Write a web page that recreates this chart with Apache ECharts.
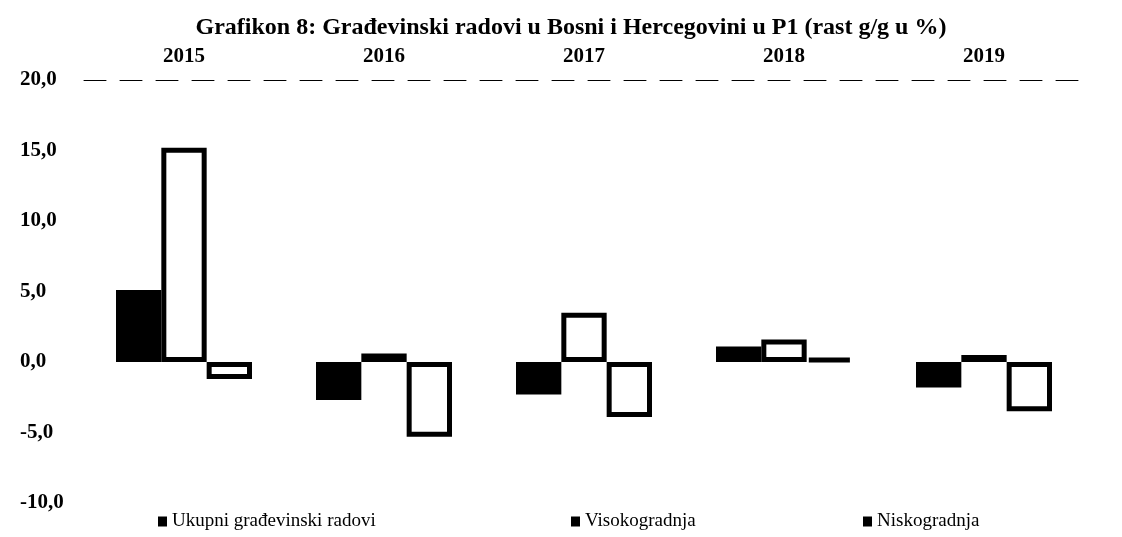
<!DOCTYPE html>
<html>
<head>
<meta charset="utf-8">
<script src="https://cdn.jsdelivr.net/npm/echarts@6/dist/echarts.min.js"></script>
<style>
  html, body { margin: 0; padding: 0; background: #fff; }
  #main { width: 1122px; height: 537px; }
</style>
</head>
<body>
<div id="main"></div>
<script>
// podaci
var godine = ["2015", "2016", "2017", "2018", "2019"]
var ukupni = [5.1, -2.7, -2.3, 1.1, -1.8]
var visokogradnja = [15.2, 0.6, 3.5, 1.6, 0.5]
var niskogradnja = [-1.2, -5.3, -3.9, 0.3, -3.5]
var nazivi = ["Ukupni građevinski radovi", "Visokogradnja", "Niskogradnja"]

var font = "Liberation Serif"
var chartDom = document.getElementById("main")
var myChart = echarts.init(chartDom)

// jedna legenda po stavci, da pozicije odgovaraju originalu
var legendLeft = [153, 566, 858]
var legende = nazivi.map(function (n, i) {
  return {
    top: 507,
    left: legendLeft[i],
    icon: "rect",
    itemWidth: 9,
    itemHeight: 10,
    itemGap: 0,
    textStyle: { fontFamily: font, fontSize: 19, color: "#000" },
    data: [{ name: n, itemStyle: { color: "#000", borderWidth: 0 } }]
  }
})

var option = {
  animation: false,
  title: {
    text: "Grafikon 8: Građevinski radovi u Bosni i Hercegovini u P1 (rast g/g u %)",
    left: 566,
    textAlign: "center",
    top: 11,
    textStyle: { fontFamily: font, fontSize: 24, fontWeight: "bold", color: "#000" }
  },
  legend: legende,
  grid: {
    left: 84,
    right: 38,
    top: 80,
    bottom: 34
  },
  xAxis: {
    type: "category",
    position: "top",
    data: godine,
    axisTick: { show: false },
    axisLine: {
      show: true,
      onZero: false,
      lineStyle: { color: "#000", type: [22, 14], width: 1 }
    },
    axisLabel: {
      margin: 13,
      fontFamily: font,
      fontSize: 21,
      fontWeight: "bold",
      color: "#000"
    }
  },
  yAxis: {
    type: "value",
    min: -10,
    max: 20,
    interval: 5,
    splitLine: { show: false },
    axisLine: { show: false },
    axisTick: { show: false },
    axisLabel: {
      align: "left",
      margin: 64,
      fontFamily: font,
      fontSize: 21,
      fontWeight: "bold",
      color: "#000",
      formatter: function (v) {
        return v.toFixed(1).replace(".", ",")
      }
    }
  },
  series: [
    {
      name: nazivi[0],
      type: "bar",
      barGap: "0%",
      barCategoryGap: "32%",
      itemStyle: { color: "#000" },
      data: ukupni
    },
    {
      name: nazivi[1],
      type: "bar",
      barGap: "0%",
      barCategoryGap: "32%",
      itemStyle: { color: "#fff", borderColor: "#000", borderWidth: 5 },
      data: visokogradnja
    },
    {
      name: nazivi[2],
      type: "bar",
      barGap: "0%",
      barCategoryGap: "32%",
      itemStyle: { color: "#fff", borderColor: "#000", borderWidth: 5 },
      data: niskogradnja
    }
  ]
}

option && myChart.setOption(option)
</script>
</body>
</html>
